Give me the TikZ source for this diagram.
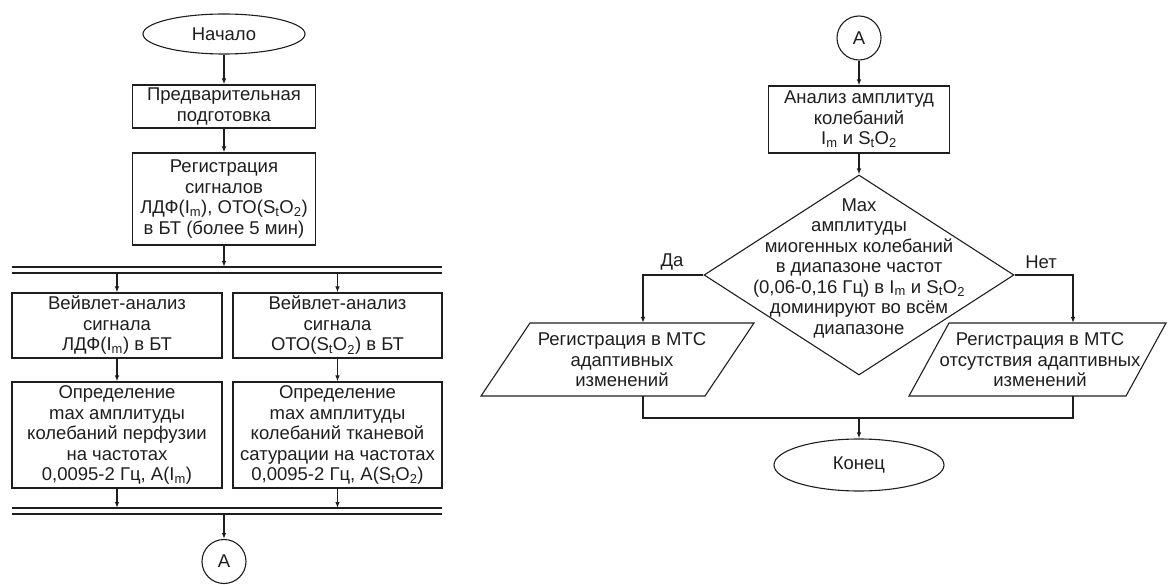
\documentclass[tikz,border=0pt]{standalone}
\usepackage{fontspec}
\setmainfont{Liberation Sans}
\usepackage{xcolor}
\definecolor{ink}{RGB}{30,30,30}
\usetikzlibrary{arrows.meta, shapes.geometric}

\begin{document}
\begin{tikzpicture}[x=1pt, y=-1pt, line width=1.1pt, color=ink,
  every node/.style={font=\fontsize{18.5}{20.5}\selectfont, align=center},
  arr/.style={-{Latex[length=6pt,width=4.5pt]}},
  term/.style={draw, ellipse, minimum width=162pt, minimum height=40pt, inner sep=0pt},
  proc/.style={draw, rectangle, inner sep=1pt},
  conn/.style={draw, circle, minimum size=44pt, inner sep=0pt},
  decision/.style={draw, diamond, minimum width=310pt, minimum height=200pt, inner sep=0pt}]
  \useasboundingbox (0,0) rectangle (1168,585);

  % left chart
  \node[term] (start) at (224,34) {Начало};
  \node[proc, minimum width=183pt, minimum height=43pt] (prep) at (224,106.5) {Предварительная\\подготовка};
  \node[proc, minimum width=183pt, minimum height=92pt] (reg) at (224,199) {Регистрация\\сигналов\\ЛДФ(I\textsubscript{m}), ОТО(S\textsubscript{t}O\textsubscript{2})\\в БТ (более 5 мин)};
  \node[proc, minimum width=210pt, minimum height=65pt] (wl) at (117,325.5) {Вейвлет-анализ\\сигнала\\ЛДФ(I\textsubscript{m}) в БТ};
  \node[proc, minimum width=209pt, minimum height=65pt] (wr) at (337.5,325.5) {Вейвлет-анализ\\сигнала\\ОТО(S\textsubscript{t}O\textsubscript{2}) в БТ};
  \node[proc, minimum width=210pt, minimum height=106pt] (ml) at (117,435) {Определение\\max амплитуды\\колебаний перфузии\\на частотах\\0,0095-2 Гц, A(I\textsubscript{m})};
  \node[proc, minimum width=209pt, minimum height=106pt] (mr) at (337.5,435) {Определение\\max амплитуды\\колебаний тканевой\\сатурации на частотах\\0,0095-2 Гц, A(S\textsubscript{t}O\textsubscript{2})};
  \node[conn] (a1) at (224,561.5) {A};

  % parallel bars
  \foreach \y in {267,273,508,514} \draw (12,\y) -- (442,\y);
  \coordinate (forkin) at (224,267);
  \coordinate (forkout) at (0,273);
  \coordinate (joinin) at (0,508);
  \coordinate (joinout) at (224,514);

  \draw[arr] (start) -- (prep);
  \draw[arr] (prep) -- (reg);
  \draw[arr] (reg) -- (forkin);
  \draw[arr] (wl |- forkout) -- (wl);
  \draw[arr] (wr |- forkout) -- (wr);
  \draw[arr] (wl) -- (ml);
  \draw[arr] (wr) -- (mr);
  \draw[arr] (ml) -- (ml |- joinin);
  \draw[arr] (mr) -- (mr |- joinin);
  \draw[arr] (joinout) -- (a1);

  % right chart
  \node[conn] (a2) at (859,38) {A};
  \node[proc, minimum width=181pt, minimum height=67pt] (anl) at (859,119.5) {Анализ амплитуд\\колебаний\\I\textsubscript{m} и S\textsubscript{t}O\textsubscript{2}};
  \node[decision] (dec) at (859,275) {};
  \node (dec-text) at (859,268) {Max\\амплитуды\\миогенных колебаний\\в диапазоне частот\\(0,06-0,16 Гц) в I\textsubscript{m} и S\textsubscript{t}O\textsubscript{2}\\доминируют во всём\\диапазоне};
  % data boxes
  \draw (530,323) coordinate (yes-top) -- (754,323) -- (705,396) -- (481,396) coordinate (yes-bot) -- cycle;
  \node (yes) at (622,360) {Регистрация в МТС\\адаптивных\\изменений};
  \draw (949,323) coordinate (no-top) -- (1166,323) -- (1126,396) -- (909,396) coordinate (no-bot) -- cycle;
  \node (no) at (1040,360) {Регистрация в МТС\\отсутствия адаптивных\\изменений};
  \node[term, minimum width=170pt, minimum height=52pt] (end) at (859,465) {Конец};
  \node (da) at (672,262) {Да};
  \node (net) at (1041,262) {Нет};

  \coordinate (yb) at (643,0);
  \coordinate (nb) at (1073,0);
  \coordinate (merge) at (859,418);

  \draw[arr] (a2) -- (anl);
  \draw[arr] (anl) -- (dec);
  \draw[arr] (dec.west) -| (yb |- yes-top);
  \draw[arr] (dec.east) -| (nb |- no-top);
  \draw (yb |- yes-bot) |- (merge) -| (nb |- no-bot);
  \draw[arr] (merge) -- (end);
\end{tikzpicture}
\end{document}
